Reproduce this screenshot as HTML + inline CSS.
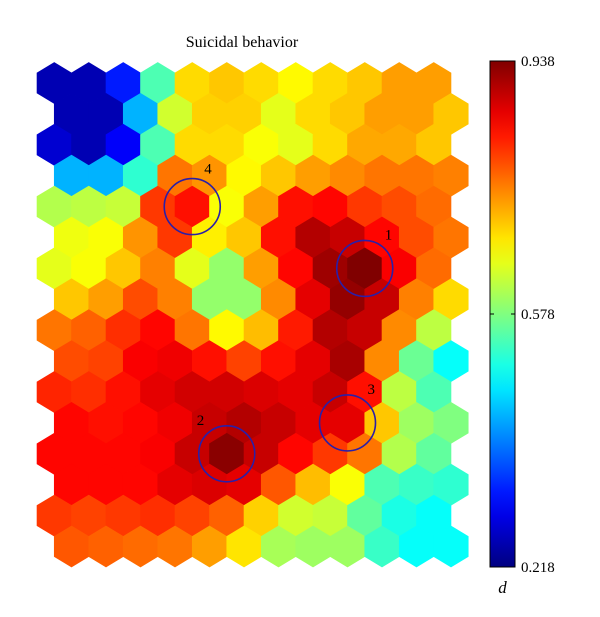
<!DOCTYPE html>
<html><head><meta charset="utf-8"><style>
html,body{margin:0;padding:0;background:#fff;}
svg{display:block;}
text{font-family:"Liberation Serif",serif;}
</style></head><body>
<svg id="chart" width="600" height="617">
<text x="242" y="47" font-size="16" text-anchor="middle">Suicidal behavior</text>
<g id="cells"></g>
<g id="marks"></g>
<g id="cbar"></g>
</svg>
<script>
// normalized values (0..1 on colorbar), rows top to bottom, 12 columns each
const row0=[0.05,0.05,0.15,0.45,0.66,0.68,0.66,0.63,0.66,0.68,0.72,0.72];
const row1=[0.05,0.05,0.30,0.58,0.67,0.67,0.60,0.66,0.68,0.72,0.72,0.68];
const row2=[0.08,0.05,0.12,0.45,0.66,0.66,0.62,0.60,0.66,0.71,0.71,0.68];
const row3=[0.30,0.30,0.42,0.76,0.73,0.63,0.68,0.72,0.74,0.76,0.76,0.75];
const row4=[0.55,0.56,0.57,0.82,0.86,0.62,0.72,0.86,0.87,0.82,0.80,0.77];
const row5=[0.61,0.62,0.73,0.82,0.64,0.68,0.86,0.95,0.93,0.87,0.80,0.76];
const row6=[0.60,0.62,0.68,0.75,0.60,0.52,0.72,0.87,0.97,1.00,0.88,0.77];
const row7=[0.68,0.72,0.80,0.75,0.52,0.52,0.74,0.90,0.98,0.93,0.75,0.66];
const row8=[0.76,0.78,0.83,0.87,0.76,0.63,0.69,0.85,0.95,0.93,0.74,0.56];
const row9=[0.80,0.81,0.88,0.89,0.86,0.81,0.86,0.90,0.96,0.74,0.48,0.38];
const row10=[0.84,0.83,0.86,0.90,0.92,0.92,0.91,0.90,0.93,0.86,0.56,0.45];
const row11=[0.87,0.86,0.87,0.89,0.93,0.95,0.93,0.90,0.90,0.68,0.53,0.50];
const row12=[0.87,0.87,0.87,0.88,0.93,0.99,0.93,0.87,0.82,0.76,0.55,0.47];
const row13=[0.87,0.87,0.87,0.90,0.91,0.90,0.79,0.69,0.62,0.45,0.43,0.42];
const row14=[0.82,0.81,0.82,0.83,0.81,0.78,0.67,0.58,0.57,0.47,0.40,0.38];
const row15=[0.79,0.78,0.77,0.76,0.72,0.65,0.54,0.53,0.53,0.43,0.38,0.38];
const rows=[row0,row1,row2,row3,row4,row5,row6,row7,row8,row9,row10,row11,row12,row13,row14,row15];
const cbTicks=["0.938","0.578","0.218"];
const cbTickPos=[1,0.5,0];
const circleLabels=["1","2","3","4"];
const circleRows=[6,12,11,4];
const circleCols=[9,5,8,4];

const NS="http://www.w3.org/2000/svg";
function jet(t){
  const c=v=>Math.round(255*Math.max(0,Math.min(1,v)));
  return `rgb(${c(1.5-Math.abs(4*t-3))},${c(1.5-Math.abs(4*t-2))},${c(1.5-Math.abs(4*t-1))})`;
}
const X0=37, W=34.5, Y0=83, DY=30.9, HH=20.6;
const cx=(r,c)=>X0+W/2+W*c+(r%2?W/2:0);
const cy=r=>Y0+DY*r;
const cells=document.getElementById('cells');
rows.forEach((row,r)=>row.forEach((v,c)=>{
  const x=cx(r,c), y=cy(r), h=W/2+0.3;
  const p=document.createElementNS(NS,'polygon');
  p.setAttribute('points',`${x},${y-HH-0.3} ${x+h},${y-HH/2} ${x+h},${y+HH/2} ${x},${y+HH+0.3} ${x-h},${y+HH/2} ${x-h},${y-HH/2}`);
  p.setAttribute('fill',jet(v));
  
  
  cells.appendChild(p);
}));
const marks=document.getElementById('marks');
circleLabels.forEach((lab,i)=>{
  const x=cx(circleRows[i],circleCols[i]), y=cy(circleRows[i]);
  const ci=document.createElementNS(NS,'circle');
  ci.setAttribute('cx',x);ci.setAttribute('cy',y);ci.setAttribute('r',28);
  ci.setAttribute('fill','none');ci.setAttribute('stroke','#2a1fa8');ci.setAttribute('stroke-width','1.6');
  
  
  marks.appendChild(ci);
  const t=document.createElementNS(NS,'text');
  t.setAttribute('x',x+(lab==="2"?-30:(lab==="4"?12:20)));t.setAttribute('y',y-(lab==="4"?33:29));
  t.setAttribute('font-size','15');t.textContent=lab;
  
  
  marks.appendChild(t);
});
// colorbar
const cb=document.getElementById('cbar');
const CBX=490,CBW=25,CBT=61,CBB=567;
let g=`<defs><linearGradient id="jg" x1="0" y1="1" x2="0" y2="0">`;
for(let i=0;i<=20;i++)g+=`<stop offset="${i/20}" stop-color="${jet(i/20)}"/>`;
g+=`</linearGradient></defs><rect x="${CBX}" y="${CBT}" width="${CBW}" height="${CBB-CBT}" fill="url(#jg)" stroke="#000" stroke-width="1"/>`;
cb.innerHTML=g;
cbTicks.forEach((lab,i)=>{
  const y=CBB-(CBB-CBT)*cbTickPos[i];
  const l=document.createElementNS(NS,'path');
  l.setAttribute('d',`M${CBX},${y}h4M${CBX+CBW},${y}h-4`);
  l.setAttribute('stroke','#000');
  
  
  cb.appendChild(l);
  const t=document.createElementNS(NS,'text');
  t.setAttribute('x',CBX+CBW+6);t.setAttribute('y',y+5);t.setAttribute('font-size','15');
  t.textContent=lab;
  
  
  cb.appendChild(t);
});
const d=document.createElementNS(NS,'text');
d.setAttribute('x',CBX+CBW/2);d.setAttribute('y',593);d.setAttribute('font-size','17');
d.setAttribute('font-style','italic');d.setAttribute('text-anchor','middle');d.textContent='d';


cb.appendChild(d);
</script>
</body></html>
